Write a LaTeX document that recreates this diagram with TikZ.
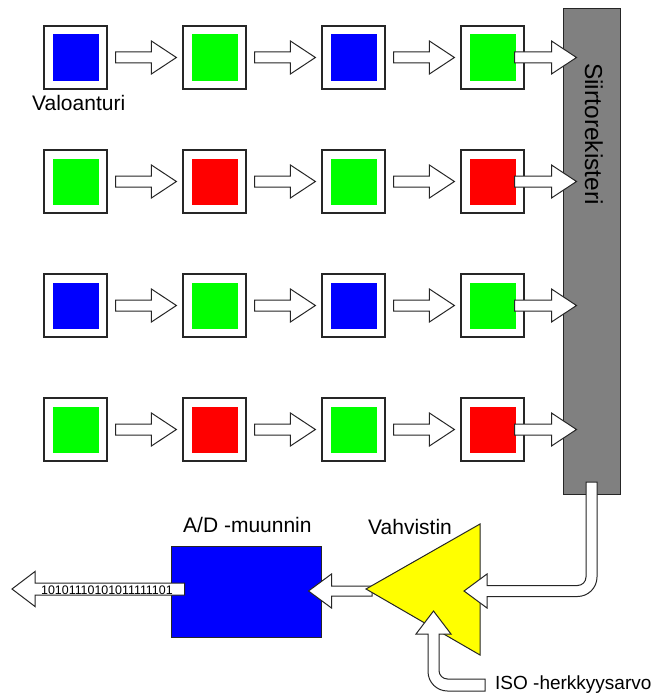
\documentclass[tikz,border=0pt]{standalone}
\usepackage{fontspec}
\setmainfont{Liberation Sans}
\usetikzlibrary{calc}
\definecolor{pxblue}{RGB}{0,0,255}
\definecolor{pxgreen}{RGB}{0,255,0}
\definecolor{pxred}{RGB}{255,0,0}
\definecolor{ampyellow}{RGB}{255,255,0}
\definecolor{reggray}{RGB}{128,128,128}
\newcommand\harrow[5]{%
  \filldraw[arrowbody] let \p1=#1, \p2=#2 in
  (\x1,\y1+#4pt) -- (\x2-#3pt,\y1+#4pt) -- (\x2-#3pt,\y1+#5pt) -- (\x2,\y1)
  -- (\x2-#3pt,\y1-#5pt) -- (\x2-#3pt,\y1-#4pt) -- (\x1,\y1-#4pt) -- cycle;}
\begin{document}
\begin{tikzpicture}[x=1pt,y=-1pt,
  cellbox/.style={draw=black!85,fill=white,line width=1.2pt,minimum size=63pt,inner sep=0pt},
  pixelbox/.style={minimum size=46pt,inner sep=0pt},
  arrowbody/.style={draw=black!85,fill=white,line width=1pt,line join=miter},
  regbox/.style={draw=black!85,fill=reggray,line width=1pt,minimum width=57pt,minimum height=485pt,inner sep=0pt},
  adbox/.style={draw=black!85,fill=pxblue,line width=1pt,minimum width=150pt,minimum height=91pt,inner sep=0pt},
  amptri/.style={draw=black!85,fill=ampyellow,line width=1pt,line join=miter},
  lbl/.style={font=\fontsize{21}{25}\selectfont,inner sep=0pt},
]
\useasboundingbox (0,0) rectangle (652,693);
% cells
\foreach \r/\y/\ca/\cb in {1/57.5/pxblue/pxgreen,2/181.5/pxgreen/pxred,3/305.5/pxblue/pxgreen,4/429.5/pxgreen/pxred}{
  \foreach \j/\x in {1/75.5,3/353.5}{
    \node[cellbox] (c\r\j) at (\x,\y) {};
    \node[pixelbox,fill=\ca] (p\r\j) at (\x,\y) {};
  }
  \foreach \j/\x in {2/214.5,4/492.5}{
    \node[cellbox] (c\r\j) at (\x,\y) {};
    \node[pixelbox,fill=\cb] (p\r\j) at (\x,\y) {};
  }
}
% shift register
\node[regbox] (reg) at (591.5,251.5) {};
\node[lbl,font=\fontsize{24.5}{28}\selectfont,rotate=-90,anchor=base west] (regtext) at (585,63) {Siirtorekisteri};
% arrows between cells
\foreach \r in {1,2,3,4}{
  \harrow{($(c\r1.east)+(8,0)$)}{($(c\r2.west)+(-6,0)$)}{25}{5.5}{16.5}
  \harrow{($(c\r2.east)+(8,0)$)}{($(c\r3.west)+(-6,0)$)}{25}{5.5}{16.5}
  \harrow{($(c\r3.east)+(8,0)$)}{($(c\r4.west)+(-6,0)$)}{25}{5.5}{16.5}
  \harrow{($(p\r4.east)+(-1,0)$)}{($(c\r4.center -| reg.west)+(14,0)$)}{25}{5.5}{16.5}
}
\node[lbl,anchor=base west] (valo) at (32,110) {Valoanturi};
% A/D converter
\node[adbox] (ad) at (246,591.5) {};
\node[lbl,anchor=base west] (adtext) at (183,532) {A/D -muunnin};
% amplifier
\coordinate (ampTR) at (480,524);
\coordinate (ampBR) at (480,655);
\coordinate (ampTip) at (366,589);
\coordinate (ampout) at (372,591);
\harrow{(ampout)}{($(ad.east)+(-13,-0.5)$)}{-23}{5}{17}
\filldraw[amptri] (ampTR) -- (ampBR) -- (ampTip) -- cycle;
\node[lbl,anchor=base west] (amptext) at (368,534) {Vahvistin};
% register to amplifier pipe
\coordinate (regout) at ($(reg.south)+(0,-12)$);
\coordinate (ampin) at (464,591);
\filldraw[arrowbody] (586,482) -- (597,482) -- (597,577)
  .. controls (597,587.77) and (588.27,596.5) .. (577.5,596.5)
  -- (487,596.5) -- (487,608) -- (ampin) -- (487,574) -- (487,585.5)
  -- (577.5,585.5) .. controls (582.19,585.5) and (586,581.69) .. (586,577) -- cycle;
% ISO input
\node[lbl,font=\fontsize{19}{23}\selectfont,anchor=base west] (iso) at (495,689) {ISO -herkkyysarvo};
\coordinate (isotip) at (433.5,611);
\filldraw[arrowbody] (485,679) -- (447.5,679)
  .. controls (442.81,679) and (439,675.19) .. (439,670.5)
  -- (439,634) -- (451,634) -- (isotip) -- (416,634) -- (428,634) -- (428,671.5)
  .. controls (428,682.27) and (436.73,691) .. (447.5,691) -- (485,691) -- cycle;
% output
\coordinate (outtip) at (12,589);
\harrow{($(ad.west)+(14,-2.5)$)}{(outtip)}{-23}{6}{17.5}
\node[anchor=base west,inner sep=0pt,font=\fontsize{12.4}{14}\selectfont] (bits) at (41,594) {10101110101011111101};
\end{tikzpicture}
\end{document}
